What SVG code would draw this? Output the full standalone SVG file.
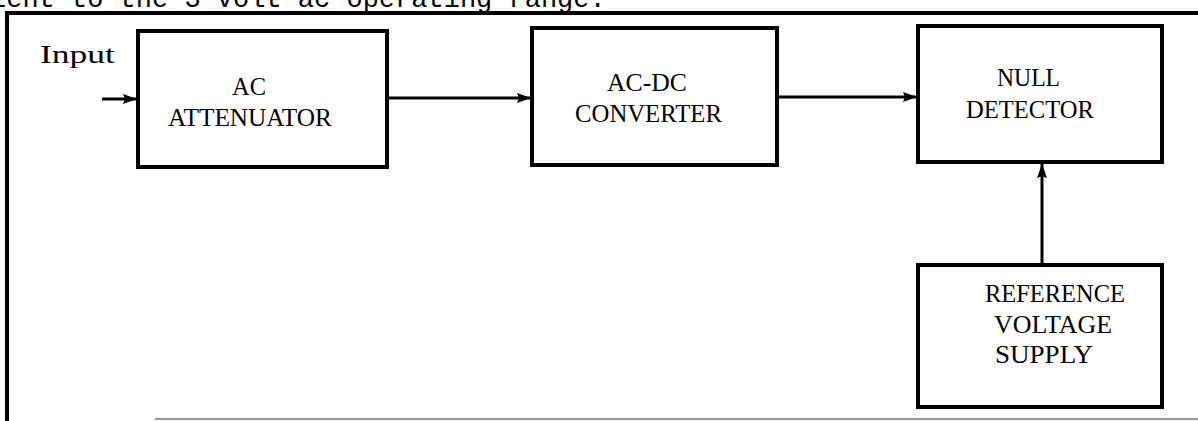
<svg xmlns="http://www.w3.org/2000/svg" width="1198" height="421" viewBox="0 0 1198 421">
<style>
.box{fill:#fff;stroke:#000;stroke-width:4;stroke-linejoin:miter}
.lbl{font-family:"Liberation Serif",serif;font-size:26px;fill:#000}
.wire{stroke:#000;stroke-width:3;fill:none}
</style>
<defs>
<marker id="ah" viewBox="0 0 14 10" refX="14" refY="5" markerWidth="14" markerHeight="10" markerUnits="userSpaceOnUse" orient="auto">
<path d="M0,0 L14,5 L0,10 L2,5 Z" fill="#000"/>
</marker>
</defs>
<rect width="1198" height="421" fill="#fff"/>
<text x="-10" y="7" font-family="Liberation Mono,monospace" font-size="27" fill="#000">lent to the 3 volt ac operating range.</text>
<g id="frame">
<line x1="5" y1="13" x2="1198" y2="13" stroke="#000" stroke-width="4"/>
<line x1="7" y1="11" x2="7" y2="421" stroke="#000" stroke-width="4"/>
<line x1="155" y1="419" x2="1198" y2="419" stroke="#777" stroke-width="1.5"/>
</g>
<g id="connectors">
<line class="wire" x1="102" y1="99" x2="137" y2="99" marker-end="url(#ah)"/>
<line class="wire" x1="387" y1="98" x2="531" y2="98" marker-end="url(#ah)"/>
<line class="wire" x1="777" y1="97" x2="917" y2="97" marker-end="url(#ah)"/>
<line class="wire" x1="1042" y1="265" x2="1042" y2="164" marker-end="url(#ah)"/>
</g>
<g id="input-label">
<text class="lbl" x="40" y="63" textLength="75" lengthAdjust="spacingAndGlyphs">Input</text>
</g>
<g id="ac-attenuator">
<rect class="box" x="138" y="31" width="249" height="136"/>
<text class="lbl" x="232" y="95" textLength="34" lengthAdjust="spacingAndGlyphs">AC</text>
<text class="lbl" x="168" y="126" textLength="164" lengthAdjust="spacingAndGlyphs">ATTENUATOR</text>
</g>
<g id="ac-dc-converter">
<rect class="box" x="532" y="28" width="245" height="137"/>
<text class="lbl" x="607" y="91" textLength="80" lengthAdjust="spacingAndGlyphs">AC-DC</text>
<text class="lbl" x="575" y="122" textLength="147" lengthAdjust="spacingAndGlyphs">CONVERTER</text>
</g>
<g id="null-detector">
<rect class="box" x="918" y="26" width="244" height="136"/>
<text class="lbl" x="997" y="86" textLength="63" lengthAdjust="spacingAndGlyphs">NULL</text>
<text class="lbl" x="966" y="118" textLength="128" lengthAdjust="spacingAndGlyphs">DETECTOR</text>
</g>
<g id="reference-voltage-supply">
<rect class="box" x="918" y="265" width="244" height="142"/>
<text class="lbl" x="985" y="302" textLength="140" lengthAdjust="spacingAndGlyphs">REFERENCE</text>
<text class="lbl" x="994" y="333" textLength="118" lengthAdjust="spacingAndGlyphs">VOLTAGE</text>
<text class="lbl" x="995" y="363" textLength="98" lengthAdjust="spacingAndGlyphs">SUPPLY</text>
</g>
</svg>
